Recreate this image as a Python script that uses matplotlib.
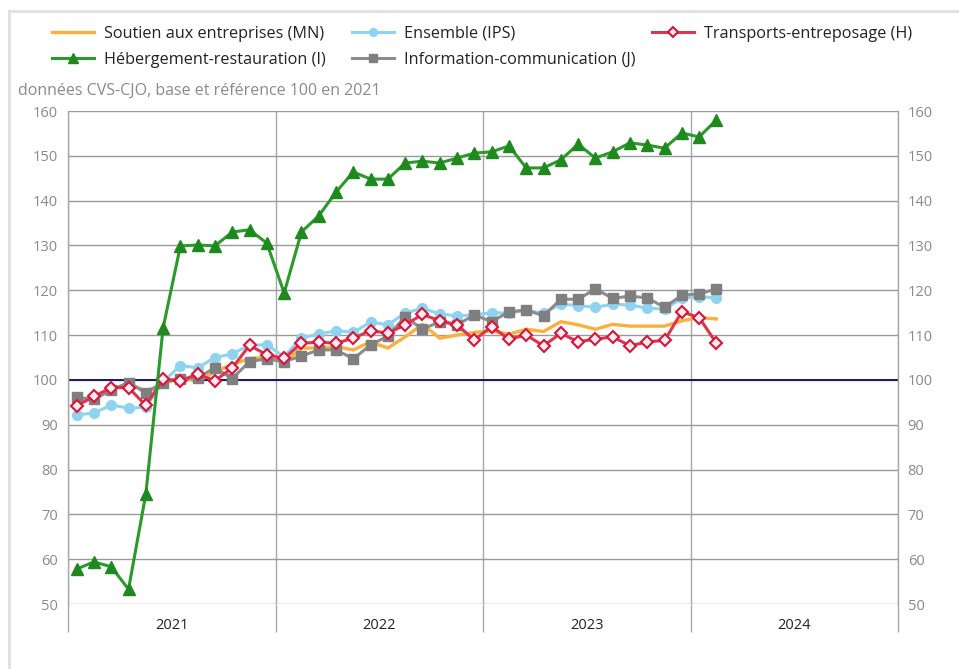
import matplotlib
matplotlib.use("Agg")
import matplotlib.pyplot as plt
from matplotlib.lines import Line2D
import numpy as np

plt.rcParams['font.family'] = ['Open Sans', 'DejaVu Sans']

# Monthly data Jan 2021 .. Feb 2024
months = [f"{y}-{m:02d}" for y in (2021, 2022, 2023) for m in range(1, 13)] + ["2024-01", "2024-02"]
years = ["2021", "2022", "2023", "2024"]

soutien_mn = [95.5, 96.0, 97.9, 99.2, 97.5, 99.0, 100.7, 99.6, 101.9, 103.4, 104.8, 105.0,
              103.8, 107.1, 107.1, 107.4, 106.7, 108.5, 107.1, 109.6, 112.4, 109.3, 110.0, 110.6,
              110.9, 110.2, 111.3, 110.8, 113.0, 112.3, 111.3, 112.4, 112.0, 112.0, 112.0, 113.2,
              113.9, 113.6]
ensemble_ips = [92.2, 92.6, 94.4, 93.7, 93.9, 99.6, 103.2, 102.7, 105.0, 105.8, 107.8, 107.8,
                105.2, 109.4, 110.2, 111.0, 110.6, 112.9, 112.3, 114.9, 116.0, 114.7, 114.3, 114.5,
                115.0, 114.9, 115.5, 114.9, 116.9, 116.6, 116.2, 116.9, 116.7, 116.0, 115.8, 118.2,
                118.6, 118.3]
transports_h = [94.2, 96.3, 98.3, 98.3, 94.3, 100.2, 99.8, 101.3, 99.8, 102.7, 107.7, 105.6,
                104.8, 108.2, 108.4, 108.2, 109.3, 111.0, 110.4, 112.3, 114.6, 113.2, 112.3, 108.9,
                111.9, 109.1, 110.0, 107.6, 110.4, 108.5, 109.1, 109.6, 107.6, 108.5, 108.8, 115.2,
                113.9, 108.2]
hebergement_i = [57.8, 59.4, 58.3, 53.3, 74.5, 111.6, 129.9, 130.1, 129.9, 133.0, 133.5, 130.5,
                 119.4, 133.0, 136.6, 141.9, 146.4, 144.8, 144.8, 148.4, 148.8, 148.4, 149.5, 150.6,
                 150.9, 152.2, 147.3, 147.3, 149.1, 152.6, 149.5, 150.9, 152.9, 152.4, 151.7, 155.1,
                 154.2, 158.0]
information_j = [96.1, 95.7, 97.7, 99.4, 97.1, 99.4, 100.2, 100.5, 102.7, 100.3, 104.1, 104.7,
                 104.1, 105.3, 106.7, 106.7, 104.7, 107.8, 109.8, 114.1, 111.3, 113.0, 112.3, 114.5,
                 113.0, 115.2, 115.6, 114.3, 118.0, 118.0, 120.3, 118.2, 118.7, 118.3, 116.2, 118.9,
                 119.2, 120.3]

labels = {
    "mn": "Soutien aux entreprises (MN)",
    "ips": "Ensemble (IPS)",
    "h": "Transports-entreposage (H)",
    "i": "Hébergement-restauration (I)",
    "j": "Information-communication (J)",
}

W, H = 959, 669
fig = plt.figure(figsize=(W / 100, H / 100), dpi=100)
ax = fig.add_axes([68 / W, 1 - 604 / H, 830 / W, 493 / H])

x = np.arange(len(months)) + 0.5

c_or = "#FBB03B"
c_bl = "#8ED3F0"
c_rd = "#E0334F"
c_gr = "#2A9A2A"
c_gy = "#8C8C8C"

l_bl, = ax.plot(x, ensemble_ips, color=c_bl, lw=2.2, marker="o", ms=7,
                mfc="#8ED3F0", mec="#8ED3F0", zorder=3, label=labels["ips"])
l_or, = ax.plot(x, soutien_mn, color=c_or, lw=2.4, zorder=4, label=labels["mn"])
l_gy, = ax.plot(x, information_j, color=c_gy, lw=2.2, marker="s", ms=6.5,
                mfc="#7F7F7F", mec="#7F7F7F", zorder=5, label=labels["j"])
l_rd, = ax.plot(x, transports_h, color=c_rd, lw=2.2, marker="D", ms=6.5,
                mfc="#FDECEF", mec="#D9143A", mew=1.5, zorder=6, label=labels["h"])
l_gr, = ax.plot(x, hebergement_i, color=c_gr, lw=2.2, marker="^", ms=9,
                mfc="#1E8A1E", mec="#1E8A1E", zorder=7, label=labels["i"])

ax.axhline(100, color="#16167A", lw=1.4, zorder=2.5)

ax.set_xlim(0, 12 * len(years))
ax.set_ylim(50, 160)
ax.set_yticks(np.arange(50, 161, 10))
ax.grid(axis="y", color="#9A9A9A", lw=1.0, zorder=1)

# year separators and labels
ax.set_xticks(np.arange(0, 12 * len(years) + 1, 12))
ax.set_xticklabels([])
ax.set_xticks(np.arange(6, 12 * len(years), 12), minor=True)
ax.set_xticklabels(years, minor=True)
ax.tick_params(axis="x", which="major", length=20, width=1.0, color="#A8A8A8", direction="out")
ax.tick_params(axis="x", which="minor", length=0, pad=10, labelsize=10.5, labelcolor="#222222")
ax.grid(axis="x", which="major", color="#A8A8A8", lw=1.0, zorder=1)

ax.tick_params(axis="y", which="both", length=0, labelsize=10.5, labelcolor="#8A8A8A",
               left=True, right=True, labelleft=True, labelright=True)
ax.tick_params(axis="y", which="both", pad=7)

for s in ["left", "right"]:
    ax.spines[s].set_color("#A8A8A8")
    ax.spines[s].set_linewidth(1.0)
for s in ["top", "bottom"]:
    ax.spines[s].set_visible(False)

# subtitle
fig.text(18 / W, 1 - 91 / H, "données CVS-CJO, base et référence 100 en 2021",
         fontsize=11.5, color="#8A8A8A", va="center", ha="left")

# legends (three columns)
cols = [([l_or, l_gr], 52), ([l_bl, l_gy], 352), ([l_rd], 652)]
fs = 11.7
for handles, xp in cols:
    leg = fig.legend(handles=handles, labels=[h.get_label() for h in handles],
                     loc="upper left", bbox_to_anchor=(xp / W, 1 - 26 / H),
                     frameon=False, fontsize=fs, borderpad=0, borderaxespad=0,
                     handlelength=2.6, handletextpad=0.6, labelspacing=0.6)
    for t in leg.get_texts():
        t.set_color("#222222")
    for lh in leg.legend_handles:
        lh.set_markersize(lh.get_markersize() * 0.8)

# light border on top and left
fig.add_artist(Line2D([9 / W, 9 / W], [0, 1 - 11 / H], transform=fig.transFigure,
                      color="#E0E0E0", lw=2))
fig.add_artist(Line2D([9 / W, 1], [1 - 11 / H, 1 - 11 / H], transform=fig.transFigure,
                      color="#E0E0E0", lw=2))

fig.savefig("out.png", dpi=100)
